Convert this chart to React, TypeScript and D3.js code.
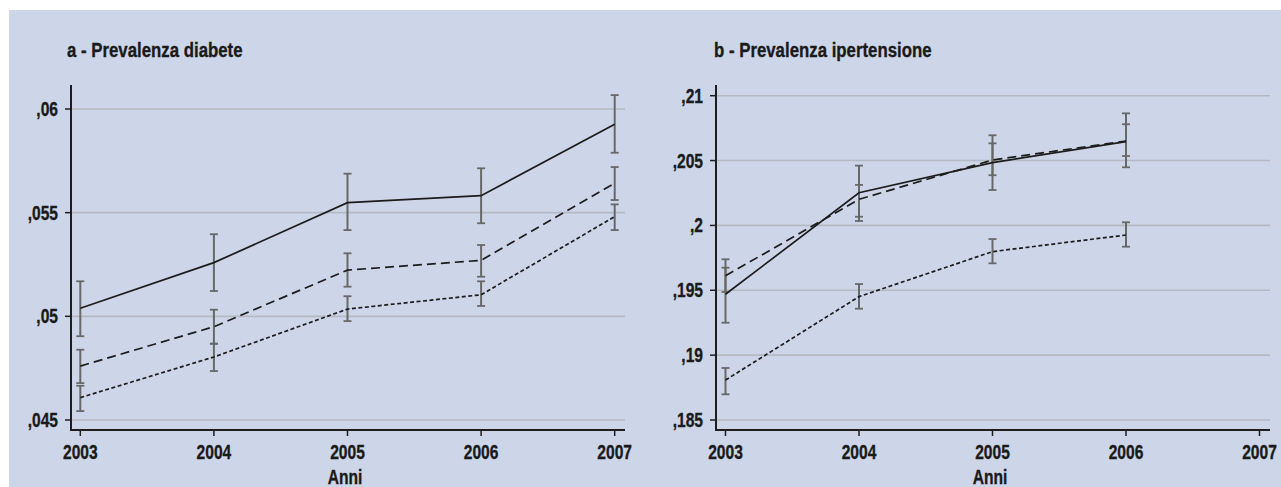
import React from "react";
import * as d3 from "d3";

const years = [2003, 2004, 2005, 2006, 2007];
const xTickLabels = ["2003", "2004", "2005", "2006", "2007"];

// Panel a - diabete
const diabYTicks = [0.045, 0.05, 0.055, 0.06];
const diabYTickLabels = [",045", ",05", ",055", ",06"];
const diabSolid = [0.05039, 0.05259, 0.05548, 0.05582, 0.05926];
const diabSolidLo = [0.04904, 0.05122, 0.05416, 0.05449, 0.05789];
const diabSolidHi = [0.05169, 0.05396, 0.05688, 0.05714, 0.06067];
const diabDashed = [0.0476, 0.0495, 0.05223, 0.0527, 0.05642];
const diabDashedLo = [0.04678, 0.04868, 0.05143, 0.05191, 0.05561];
const diabDashedHi = [0.04839, 0.05032, 0.05304, 0.05344, 0.0572];
const diabDotted = [0.04608, 0.04804, 0.05035, 0.05104, 0.05481];
const diabDottedLo = [0.04543, 0.04736, 0.04977, 0.0505, 0.05416];
const diabDottedHi = [0.04665, 0.04868, 0.05097, 0.05169, 0.0554];

// Panel b - ipertensione (2003-2006)
const ipYTicks = [0.185, 0.19, 0.195, 0.2, 0.205, 0.21];
const ipYTickLabels = [",185", ",19", ",195", ",2", ",205", ",21"];
const ipSolid = [0.19469, 0.20252, 0.20484, 0.20646];
const ipSolidLo = [0.1925, 0.20067, 0.20273, 0.20448];
const ipSolidHi = [0.19674, 0.20461, 0.20695, 0.20864];
const ipDashed = [0.19612, 0.20201, 0.20504, 0.20651];
const ipDashedLo = [0.19487, 0.20034, 0.20387, 0.20535];
const ipDashedHi = [0.19739, 0.20312, 0.20633, 0.2078];
const ipDotted = [0.18808, 0.19451, 0.19798, 0.19926];
const ipDottedLo = [0.18698, 0.19358, 0.19708, 0.19836];
const ipDottedHi = [0.18901, 0.19548, 0.19895, 0.20024];

const FONT = "'Liberation Sans', Arial, sans-serif";
const BG = "#cdd6e8";
const GRID = "#b5b9c1";
const AXIS = "#1e1e1e";
const BAR = "#686868";
const LINE = "#1c1c1c";
const TXT = "#1a1a1a";

function NText(props: { x: number; y: number; size: number; sx?: number; anchor?: string; children: React.ReactNode }) {
  const { x, y, size, sx = 0.78, anchor = "start", children } = props;
  return (
    <text
      transform={`translate(${x},${y}) scale(${sx},1)`}
      textAnchor={anchor}
      fontFamily={FONT}
      fontWeight="bold"
      fontSize={size}
      fill={TXT}
      stroke={TXT}
      strokeWidth={0.35}
    >
      {children}
    </text>
  );
}

type Series = { v: number[]; lo: number[]; hi: number[]; dash: string };

function Panel(props: {
  title: string;
  titleX: number;
  axisX: number;
  axisEndX: number;
  x0: number;
  x1: number;
  yDomain: [number, number];
  yRange: [number, number];
  yTicks: number[];
  yTickLabels: string[];
  series: Series[];
}) {
  const { title, titleX, axisX, axisEndX, x0, x1, yDomain, yRange, yTicks, yTickLabels, series } = props;
  const x = d3.scaleLinear().domain([2003, 2007]).range([x0, x1]);
  const y = d3.scaleLinear().domain(yDomain).range(yRange);
  const axisTop = 85;
  const axisY = 430;
  const line = d3
    .line<number>()
    .x((_, i) => x(years[i]))
    .y((d) => y(d));
  return (
    <g>
      <NText x={titleX} y={57} size={20.5} sx={0.82}>
        {title}
      </NText>
      {yTicks.map((t, i) => (
        <g key={"g" + i}>
          <line x1={axisX} x2={axisEndX} y1={y(t)} y2={y(t)} stroke={GRID} strokeWidth={1.6} />
          <line x1={axisX - 6} x2={axisX} y1={y(t)} y2={y(t)} stroke={AXIS} strokeWidth={1.5} />
          <NText x={axisX - 13} y={y(t) + 7} size={20} anchor="end">
            {yTickLabels[i]}
          </NText>
        </g>
      ))}
      {years.map((yr, i) => (
        <g key={"x" + i}>
          <line x1={x(yr)} x2={x(yr)} y1={axisY} y2={axisY + 6} stroke={AXIS} strokeWidth={1.5} />
          <NText x={x(yr)} y={459} size={20} anchor="middle">
            {xTickLabels[i]}
          </NText>
        </g>
      ))}
      <NText x={(axisX + axisEndX) / 2 - 3} y={484} size={20} anchor="middle">
        Anni
      </NText>
      <line x1={axisX} x2={axisX} y1={axisTop} y2={axisY + 1} stroke={AXIS} strokeWidth={2} />
      <line x1={axisX - 1} x2={axisEndX} y1={axisY} y2={axisY} stroke={AXIS} strokeWidth={2} />
      {series.map((s, si) => (
        <g key={"s" + si}>
          {s.v.map((_, i) => (
            <g key={"b" + i}>
              <line x1={x(years[i])} x2={x(years[i])} y1={y(s.lo[i])} y2={y(s.hi[i])} stroke={BAR} strokeWidth={2} />
              <line x1={x(years[i]) - 4} x2={x(years[i]) + 4} y1={y(s.lo[i])} y2={y(s.lo[i])} stroke={BAR} strokeWidth={1.8} />
              <line x1={x(years[i]) - 4} x2={x(years[i]) + 4} y1={y(s.hi[i])} y2={y(s.hi[i])} stroke={BAR} strokeWidth={1.8} />
            </g>
          ))}
        </g>
      ))}
      {series.map((s, si) => (
        <path key={"l" + si} d={line(s.v) || ""} fill="none" stroke={LINE} strokeWidth={1.7} strokeDasharray={s.dash} />
      ))}
    </g>
  );
}

export default function App() {
  const diabSeries: Series[] = [
    { v: diabSolid, lo: diabSolidLo, hi: diabSolidHi, dash: "none" },
    { v: diabDashed, lo: diabDashedLo, hi: diabDashedHi, dash: "9 5" },
    { v: diabDotted, lo: diabDottedLo, hi: diabDottedHi, dash: "4 2.5" },
  ];
  const ipSeries: Series[] = [
    { v: ipSolid, lo: ipSolidLo, hi: ipSolidHi, dash: "none" },
    { v: ipDashed, lo: ipDashedLo, hi: ipDashedHi, dash: "9 5" },
    { v: ipDotted, lo: ipDottedLo, hi: ipDottedHi, dash: "4 2.5" },
  ];
  return (
    <svg
      width={1281}
      height={487}
      style={{ position: "absolute", left: 0, top: 0, display: "block" }}
    >
      <rect x={0} y={0} width={1281} height={487} fill="#ffffff" />
      <rect x={9} y={10} width={1272} height={477} fill={BG} />
      <Panel
        title="a - Prevalenza diabete"
        titleX={67}
        axisX={71}
        axisEndX={625}
        x0={80.3}
        x1={614.7}
        yDomain={[0.045, 0.06]}
        yRange={[420, 109]}
        yTicks={diabYTicks}
        yTickLabels={diabYTickLabels}
        series={diabSeries}
      />
      <Panel
        title="b - Prevalenza ipertensione"
        titleX={714}
        axisX={716}
        axisEndX={1270}
        x0={725.5}
        x1={1259.5}
        yDomain={[0.185, 0.21]}
        yRange={[420, 95.7]}
        yTicks={ipYTicks}
        yTickLabels={ipYTickLabels}
        series={ipSeries}
      />
    </svg>
  );
}
